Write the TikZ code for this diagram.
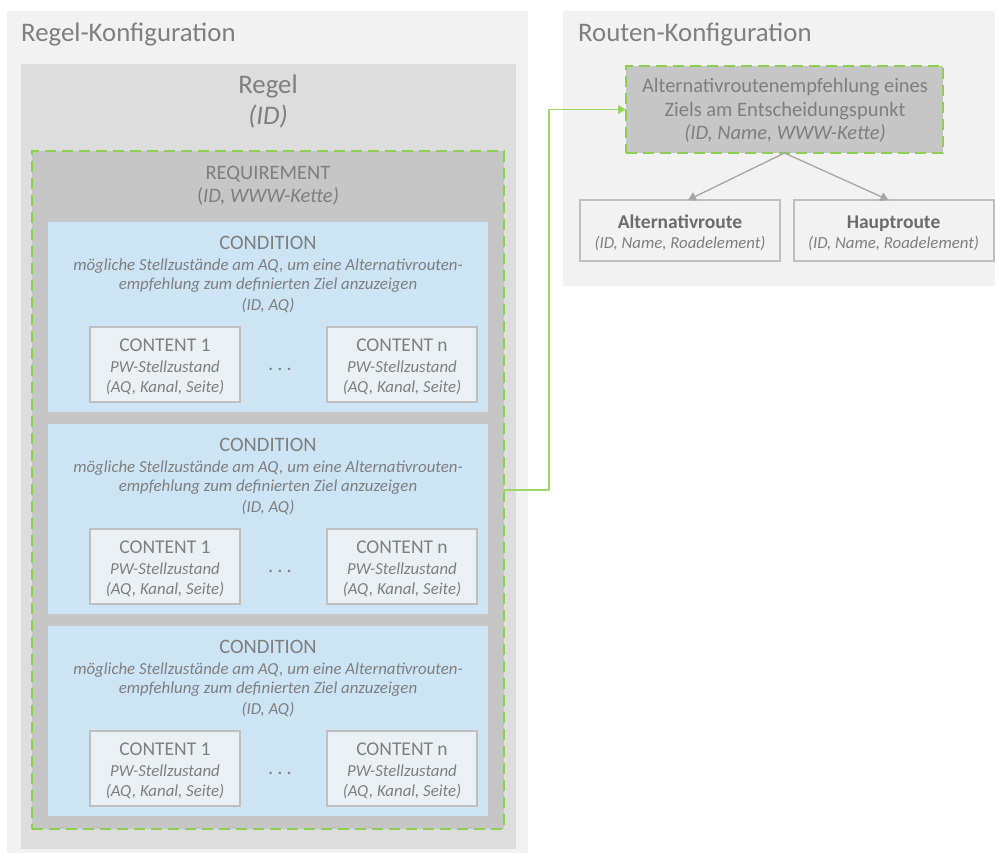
\documentclass[tikz,border=0pt]{standalone}
\usepackage{fontspec}
\setmainfont{Carlito}
\usetikzlibrary{arrows.meta}

\definecolor{panelgray}{HTML}{F2F2F2}
\definecolor{regelgray}{HTML}{DDDDDD}
\definecolor{reqgray}{HTML}{C6C6C6}
\definecolor{condblue}{HTML}{CDE4F4}
\definecolor{contfill}{HTML}{EBF0F4}
\definecolor{boxgray}{HTML}{BFBFBF}
\definecolor{kgreen}{HTML}{8DCF4E}
\definecolor{txtgray}{HTML}{7F7F7F}
\definecolor{arrowgray}{HTML}{A6A6A6}

\newcommand\fbig{\fontsize{26.8}{30}\selectfont}
\newcommand\fmid{\fontsize{20.5}{24}\selectfont}
\newcommand\fcont{\fontsize{19.5}{23}\selectfont}
\newcommand\fsmall{\fontsize{16.8}{20}\selectfont}

\tikzset{
  panel/.style={fill=panelgray, inner sep=0pt, outer sep=0pt, anchor=north west},
  regelbox/.style={fill=regelgray, inner sep=0pt, outer sep=0pt, anchor=north west},
  dashbox/.style={fill=reqgray, draw=kgreen, line width=2.5pt, dash pattern=on 11pt off 6pt,
    inner sep=0pt, outer sep=0pt, anchor=north west},
  condbox/.style={fill=condblue, inner sep=0pt, outer sep=0pt, anchor=north west},
  contbox/.style={fill=contfill, draw=boxgray, line width=2pt, inner sep=0pt, outer sep=0pt,
    minimum width=150pt, minimum height=75pt},
  routebox/.style={fill=panelgray, draw=boxgray, line width=2pt, inner sep=0pt, outer sep=0pt,
    minimum width=200pt, minimum height=61pt},
  title/.style={text=txtgray, inner sep=0pt, anchor=base west, font=\fbig},
  txt/.style={text=txtgray, inner sep=0pt, anchor=base},
  conn/.style={draw=kgreen!85, line width=1.4pt, -{Triangle[width=9pt,length=8pt,fill=kgreen]}},
  sub/.style={draw=arrowgray, line width=1.3pt, -{Triangle[width=9pt,length=8pt]}},
}

\begin{document}
\begin{tikzpicture}[x=1pt, y=-1pt]
  \useasboundingbox (0,0) rectangle (995,853);

  % 左侧: Regel-Konfiguration
  \node[panel, minimum width=521pt, minimum height=842pt] (regkonf) at (7,11) {};
  \node[title] (regkonf-title) at (21,42) {Regel-Konfiguration};
  \node[regelbox, minimum width=495pt, minimum height=785pt] (regel) at (21,64) {};
  \node[txt, font=\fbig] (regel-name) at (268,94) {Regel};
  \node[txt, font=\fbig\itshape] (regel-id) at (268,125) {(ID)};

  % REQUIREMENT, 绿色虚线框
  \node[dashbox, minimum width=472pt, minimum height=678pt] (req) at (32,151) {};
  \node[txt, font=\fmid] (req-name) at (268,179) {REQUIREMENT};
  \node[txt, font=\fmid] (req-id) at (268,202) {(\textit{ID, WWW-Kette)}};

  % 三个 CONDITION
  \foreach \i/\y in {1/222, 2/424, 3/626} {
    \node[condbox, minimum width=440pt, minimum height=190pt] (cond\i) at (48,\y) {};
    \node[txt, font=\fmid] (cond\i-name) at (268,\y+27) {CONDITION};
    \node[txt, font=\fsmall\itshape] (cond\i-l1) at (268,\y+48)
      {mögliche Stellzustände am AQ, um eine Alternativrouten-};
    \node[txt, font=\fsmall\itshape] (cond\i-l2) at (268,\y+67)
      {empfehlung zum definierten Ziel anzuzeigen};
    \node[txt, font=\fsmall\itshape] (cond\i-id) at (268,\y+88) {(ID, AQ)};
    % CONTENT 1 ... CONTENT n
    \node[contbox] (cont\i-a) at (165,\y+142.5) {};
    \node[contbox] (cont\i-n) at (402,\y+142.5) {};
    \foreach \c/\x/\t in {a/165/1, n/402/n} {
      \node[txt, font=\fcont] (cont\i-\c-name) at (\x,\y+129) {CONTENT \t};
      \node[txt, font=\fsmall\itshape] (cont\i-\c-l1) at (\x,\y+150) {PW-Stellzustand};
      \node[txt, font=\fsmall\itshape] (cont\i-\c-l2) at (\x,\y+170) {(AQ, Kanal, Seite)};
    }
    \node[txt, font=\fmid] (dots\i) at (280,\y+148) {.\hspace{4pt}.\hspace{4pt}.};
  }

  % 右侧: Routen-Konfiguration
  \node[panel, minimum width=432pt, minimum height=275pt] (routkonf) at (563,11) {};
  \node[title] (routkonf-title) at (578,42) {Routen-Konfiguration};
  \node[dashbox, minimum width=317pt, minimum height=87pt] (altemp) at (626,66) {};
  \node[txt, font=\fmid] (altemp-l1) at (785,93) {Alternativroutenempfehlung eines};
  \node[txt, font=\fmid] (altemp-l2) at (785,117) {Ziels am Entscheidungspunkt};
  \node[txt, font=\fmid\itshape] (altemp-id) at (785,140) {(ID, Name, WWW-Kette)};

  \node[routebox] (altroute) at (680,230.5) {};
  \node[txt, font=\fcont\bfseries, text=txtgray!85!black] (altroute-name) at (680,228) {Alternativroute};
  \node[txt, font=\fsmall\itshape] (altroute-id) at (680,248) {(ID, Name, Roadelement)};
  \node[routebox] (hauptroute) at (893.5,230.5) {};
  \node[txt, font=\fcont\bfseries, text=txtgray!85!black] (hauptroute-name) at (893.5,228) {Hauptroute};
  \node[txt, font=\fsmall\itshape] (hauptroute-id) at (893.5,248) {(ID, Name, Roadelement)};

  % 连线
  \draw[sub] (altemp.south) -- ([xshift=8pt]altroute.north);
  \draw[sub] (altemp.south) -- ([xshift=-5pt]hauptroute.north);
  \draw[conn] (req.east) -- ++(45,0) |- (altemp.west);
\end{tikzpicture}
\end{document}
